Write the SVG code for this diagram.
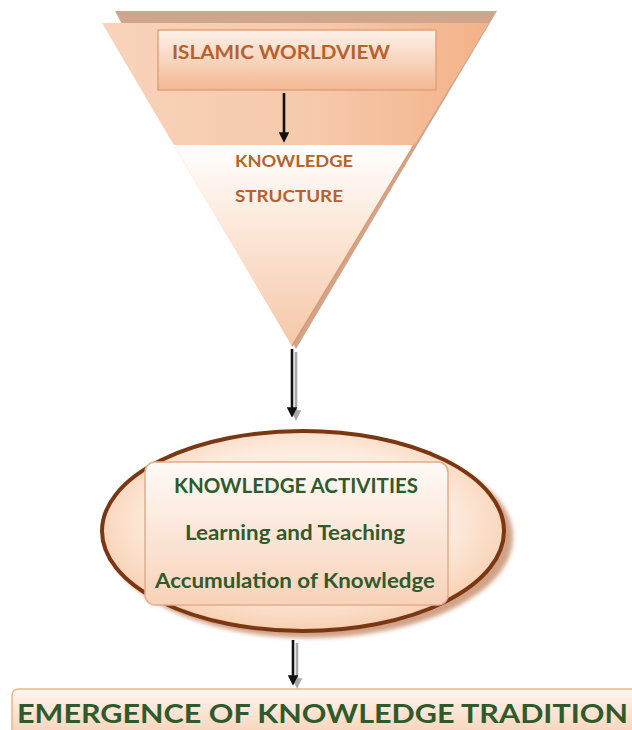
<svg xmlns="http://www.w3.org/2000/svg" width="632" height="730" viewBox="0 0 632 730">
  <style>
    .tri-label { font-family: Lato, "Open Sans", "Liberation Sans", sans-serif; font-weight: bold; fill: #b5622e; }
    .act-label { font-family: Lato, "Open Sans", "Liberation Sans", sans-serif; font-weight: bold; fill: #2f5a2c; }
    .conn { stroke: #111; stroke-width: 2.6; fill: none; marker-end: url(#head); }
    .conn-shadow { stroke: #a8a8a8; stroke-width: 2.6; fill: none; marker-end: url(#headShadow); }
  </style>
  <defs>
    <marker id="head" markerWidth="4" markerHeight="4" refX="2.2" refY="2" orient="auto" markerUnits="strokeWidth">
      <path d="M0,0 L4,2 L0,4 Z" fill="#111"/>
    </marker>
    <marker id="headShadow" markerWidth="4" markerHeight="4" refX="2.2" refY="2" orient="auto" markerUnits="strokeWidth">
      <path d="M0,0 L4,2 L0,4 Z" fill="#a8a8a8"/>
    </marker>
    <linearGradient id="triTop" x1="0" y1="0" x2="1" y2="0">
      <stop offset="0" stop-color="#f8d3bb"/>
      <stop offset="0.55" stop-color="#f6c9ab"/>
      <stop offset="1" stop-color="#f3b288"/>
    </linearGradient>
    <linearGradient id="triLow" x1="0" y1="0" x2="0" y2="1">
      <stop offset="0" stop-color="#ffffff"/>
      <stop offset="0.4" stop-color="#fce8da"/>
      <stop offset="1" stop-color="#f6c7a8"/>
    </linearGradient>
    <linearGradient id="boxGrad" x1="0" y1="0" x2="0" y2="1">
      <stop offset="0" stop-color="#fdf2ea"/>
      <stop offset="1" stop-color="#f3b892"/>
    </linearGradient>
    <radialGradient id="ellGrad" cx="0.5" cy="0.45" r="0.58">
      <stop offset="0" stop-color="#fffbf8"/>
      <stop offset="0.65" stop-color="#fdeadc"/>
      <stop offset="1" stop-color="#f7caa9"/>
    </radialGradient>
    <linearGradient id="innerGrad" x1="0" y1="0" x2="0" y2="1">
      <stop offset="0" stop-color="#fffaf7"/>
      <stop offset="1" stop-color="#f8d2b9"/>
    </linearGradient>
    <linearGradient id="bottomGrad" x1="0" y1="0" x2="0" y2="1">
      <stop offset="0" stop-color="#fff6f0"/>
      <stop offset="1" stop-color="#f6c8a8"/>
    </linearGradient>
    <filter id="soft" x="-10%" y="-10%" width="120%" height="120%">
      <feGaussianBlur stdDeviation="2"/>
    </filter>
  </defs>

  <rect width="632" height="730" fill="#ffffff"/>

  <!-- inverted triangle holding the worldview and the knowledge structure -->
  <g id="triangle">
    <polygon points="115,11 497,11 296,349" fill="#cfa68c"/>
    <polygon points="102,23 489,23 292,346" fill="url(#triTop)"/>
    <polygon points="174,145 414,145 292,346" fill="url(#triLow)"/>
    <polyline points="414,145 292,346" fill="none" stroke="#d99a74" stroke-width="1.5"/>
  </g>

  <g id="islamic-worldview">
    <rect x="158" y="30" width="278" height="60" fill="url(#boxGrad)" stroke="#e2a27a" stroke-width="1.5"/>
    <text class="tri-label" x="172" y="59" font-size="19" textLength="218" lengthAdjust="spacingAndGlyphs">ISLAMIC WORLDVIEW</text>
  </g>

  <g id="knowledge-structure">
    <text class="tri-label" x="235" y="167" font-size="17" textLength="118" lengthAdjust="spacingAndGlyphs">KNOWLEDGE</text>
    <text class="tri-label" x="235" y="202" font-size="17" textLength="108" lengthAdjust="spacingAndGlyphs">STRUCTURE</text>
  </g>

  <!-- ellipse with the knowledge activities -->
  <g id="knowledge-activities">
    <ellipse cx="310" cy="537" rx="203" ry="101" fill="#c99272" filter="url(#soft)" opacity="0.85"/>
    <ellipse cx="303" cy="531" rx="201" ry="100" fill="url(#ellGrad)" stroke="#7a3712" stroke-width="4"/>
    <rect x="145" y="462" width="303" height="143" rx="10" fill="url(#innerGrad)" stroke="#e4ac8a" stroke-width="1.5"/>
    <text class="act-label" x="174" y="493" font-size="20" textLength="244" lengthAdjust="spacingAndGlyphs">KNOWLEDGE ACTIVITIES</text>
    <text class="act-label" x="185" y="540" font-size="20" textLength="220" lengthAdjust="spacingAndGlyphs">Learning and Teaching</text>
    <text class="act-label" x="155" y="588" font-size="20" textLength="280" lengthAdjust="spacingAndGlyphs">Accumulation of Knowledge</text>
  </g>

  <!-- outcome bar at the foot -->
  <g id="knowledge-tradition">
    <rect x="12" y="689" width="640" height="60" rx="6" fill="url(#bottomGrad)" stroke="#f0b48e" stroke-width="1.5"/>
    <text class="act-label" x="17" y="723" font-size="26" textLength="611" lengthAdjust="spacingAndGlyphs">EMERGENCE OF KNOWLEDGE TRADITION</text>
  </g>

  <!-- connectors -->
  <g id="connectors">
    <line class="conn" x1="284" y1="93" x2="284" y2="138"/>
    <line class="conn-shadow" x1="296" y1="352" x2="296" y2="416"/>
    <line class="conn" x1="292" y1="349" x2="292" y2="413"/>
    <line class="conn-shadow" x1="297" y1="643" x2="297" y2="684"/>
    <line class="conn" x1="293" y1="640" x2="293" y2="681"/>
  </g>
</svg>
